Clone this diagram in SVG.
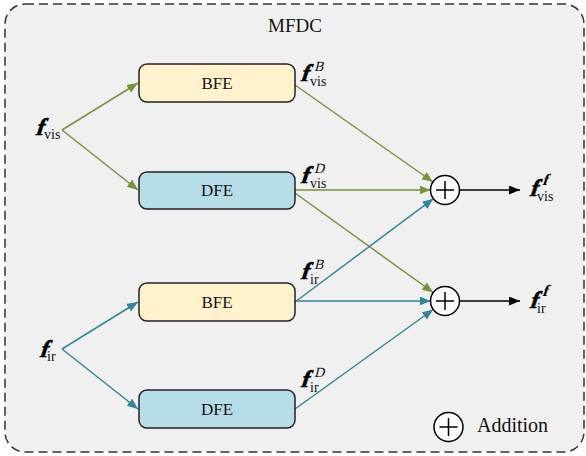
<svg xmlns="http://www.w3.org/2000/svg" width="586" height="456" viewBox="0 0 586 456">
<defs>
<style>
text{font-family:"Liberation Serif","Times New Roman",serif}
.frame{fill:#f0f0f0;stroke:#333;stroke-width:1.5;stroke-dasharray:9 5}
.bfe{fill:#fff2cc;stroke:#222;stroke-width:1.5}
.dfe{fill:#b7dde8;stroke:#222;stroke-width:1.5}
.lbl{font-size:17px;fill:#111;text-anchor:middle}
.title{font-size:19px;fill:#111;text-anchor:middle}
.leg{font-size:20px;fill:#111}
.f{font-size:24px;font-weight:bold;fill:#000;stroke:#000;stroke-width:0.5}
.sub{font-size:14px;fill:#111}
.sup{font-size:14px;fill:#111}
.supf{font-size:16px;font-weight:bold;fill:#000}
.g{stroke:#77933c;stroke-width:1.5;fill:none;marker-end:url(#ag)}
.b{stroke:#31859c;stroke-width:1.5;fill:none;marker-end:url(#ab)}
.k{stroke:#000;stroke-width:1.5;fill:none;marker-end:url(#ak)}
.add circle{fill:#fff;stroke:#000;stroke-width:1.5}
.add line{stroke:#000;stroke-width:1.5}
</style>
<marker id="ag" markerUnits="userSpaceOnUse" markerWidth="12" markerHeight="10" refX="11" refY="4.5" orient="auto"><path d="M0,0 L11,4.5 L0,9 z" fill="#77933c"/></marker>
<marker id="ab" markerUnits="userSpaceOnUse" markerWidth="12" markerHeight="10" refX="11" refY="4.5" orient="auto"><path d="M0,0 L11,4.5 L0,9 z" fill="#31859c"/></marker>
<marker id="ak" markerUnits="userSpaceOnUse" markerWidth="12" markerHeight="10" refX="11" refY="4.5" orient="auto"><path d="M0,0 L11,4.5 L0,9 z" fill="#000"/></marker>
</defs>
<g id="mfdc">
<rect class="frame" x="5" y="4" width="579" height="448" rx="20"/>
<text class="title" x="295" y="32">MFDC</text>
</g>
<g id="connectors">
<path class="g" d="M62,130 L138,83"/>
<path class="g" d="M62,130 L138,190"/>
<path class="b" d="M62,349 L138,302"/>
<path class="b" d="M62,349 L138,409"/>
<path class="g" d="M295,85 L433,182"/>
<path class="g" d="M295,190 L430.5,190"/>
<path class="g" d="M295,193 L433.2,292.5"/>
<path class="b" d="M295,302 L433.4,198.7"/>
<path class="b" d="M295,301 L430.5,301"/>
<path class="b" d="M295,409 L433.2,309.5"/>
<path class="k" d="M459.5,190 L520,190"/>
<path class="k" d="M459.5,301 L520,301"/>
</g>
<g id="bfe-vis"><rect class="bfe" x="139" y="64" width="156" height="38" rx="8"/><text class="lbl" x="217" y="89">BFE</text></g>
<g id="dfe-vis"><rect class="dfe" x="139" y="172" width="156" height="37" rx="8"/><text class="lbl" x="217" y="196">DFE</text></g>
<g id="bfe-ir"><rect class="bfe" x="139" y="283" width="156" height="38" rx="8"/><text class="lbl" x="217" y="308">BFE</text></g>
<g id="dfe-ir"><rect class="dfe" x="139" y="390" width="156" height="38" rx="8"/><text class="lbl" x="217" y="415">DFE</text></g>
<g id="add-vis" class="add"><circle cx="445" cy="190" r="14.5"/><line x1="436" y1="190" x2="454" y2="190"/><line x1="445" y1="181" x2="445" y2="199"/></g>
<g id="add-ir" class="add"><circle cx="445" cy="301" r="14.5"/><line x1="436" y1="301" x2="454" y2="301"/><line x1="445" y1="292" x2="445" y2="310"/></g>
<g id="legend" class="add"><circle cx="448.5" cy="427" r="14.5"/><line x1="439.5" y1="427" x2="457.5" y2="427"/><line x1="448.5" y1="418" x2="448.5" y2="436"/><text class="leg" x="477" y="432">Addition</text></g>
<g id="labels">
<g transform="translate(35,135) skewX(-18)"><text class="f">f</text></g><text class="sub" x="44" y="139">vis</text>
<g transform="translate(39,357) skewX(-18)"><text class="f">f</text></g><text class="sub" x="47" y="361">ir</text>
<g transform="translate(300,81) skewX(-18)"><text class="f">f</text></g><g transform="translate(314,71) skewX(-15)"><text class="sup">B</text></g><text class="sub" x="310" y="86">vis</text>
<g transform="translate(300,183) skewX(-18)"><text class="f">f</text></g><g transform="translate(314,173) skewX(-15)"><text class="sup">D</text></g><text class="sub" x="310" y="188">vis</text>
<g transform="translate(300,279) skewX(-18)"><text class="f">f</text></g><g transform="translate(314,269) skewX(-15)"><text class="sup">B</text></g><text class="sub" x="310" y="284">ir</text>
<g transform="translate(300,387) skewX(-18)"><text class="f">f</text></g><g transform="translate(314,377) skewX(-15)"><text class="sup">D</text></g><text class="sub" x="310" y="392">ir</text>
<g transform="translate(529,196) skewX(-18)"><text class="f">f</text></g><g transform="translate(542,185) skewX(-18)"><text class="supf">f</text></g><text class="sub" x="537" y="201">vis</text>
<g transform="translate(529,308) skewX(-18)"><text class="f">f</text></g><g transform="translate(542,296) skewX(-18)"><text class="supf">f</text></g><text class="sub" x="537" y="313">ir</text>
</g>
</svg>
